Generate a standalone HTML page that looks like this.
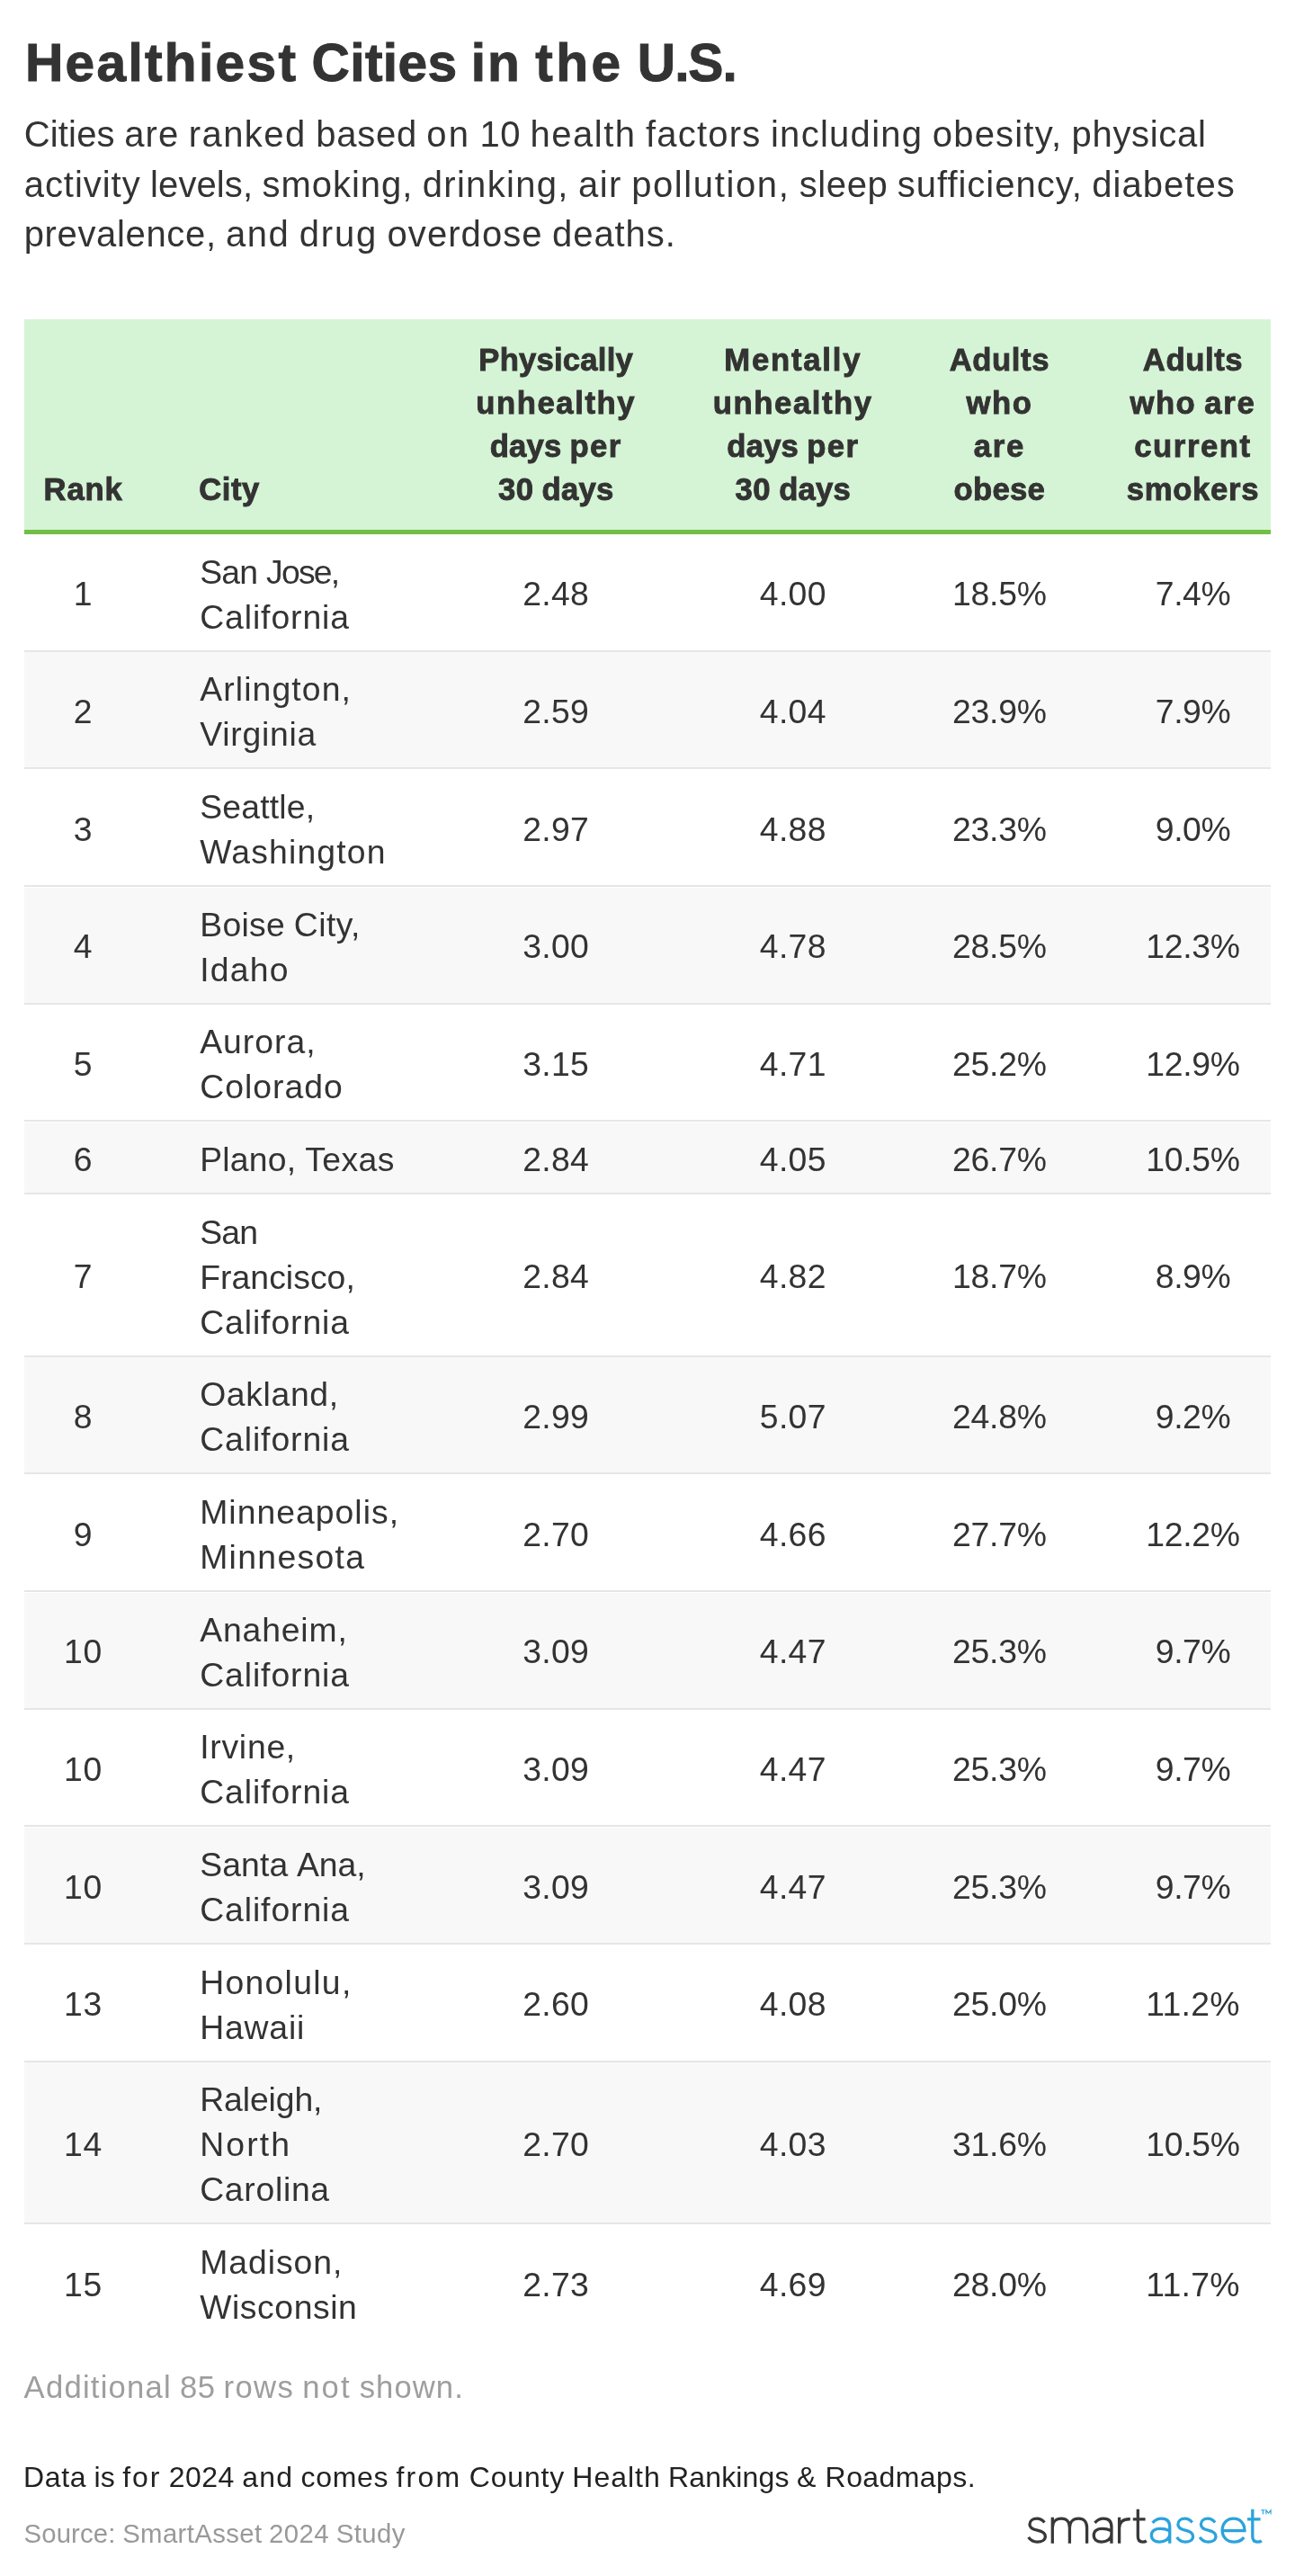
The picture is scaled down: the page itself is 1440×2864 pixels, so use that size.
<!DOCTYPE html>
<html><head><meta charset="utf-8"><title>Healthiest Cities in the U.S.</title>
<style>
html,body{margin:0;padding:0;background:#fff}
body{width:1440px;height:2864px;position:relative;overflow:hidden;font-family:"Liberation Sans",sans-serif}
.t{position:absolute;white-space:nowrap;font-family:"Liberation Sans",sans-serif}
.r{position:absolute}
#wrap{position:absolute;left:0;top:0;width:1440px;height:2864px;will-change:transform}
</style></head><body>
<div id="wrap">
<div class="t" style="left:27.90px;top:34.86px;font-size:58.67px;line-height:70.40px;color:#333;font-weight:bold;-webkit-text-stroke:1.0px #333;word-spacing:-1.097px;"><span style="letter-spacing:2.301px">Healthiest</span> <span style="letter-spacing:0.385px">Cities</span> <span style="letter-spacing:2.092px">in</span> <span style="letter-spacing:3.478px">the</span> <span style="letter-spacing:-1.065px">U.S.</span></div>
<div class="t" style="left:26.70px;top:124.73px;font-size:40.00px;line-height:48.00px;color:#333;word-spacing:-0.722px;"><span style="letter-spacing:0.182px">Cities</span> <span style="letter-spacing:1.067px">are</span> <span style="letter-spacing:1.461px">ranked</span> <span style="letter-spacing:0.761px">based</span> <span style="letter-spacing:2.109px">on</span> <span style="letter-spacing:0.585px">10</span> <span style="letter-spacing:1.507px">health</span> <span style="letter-spacing:1.214px">factors</span> <span style="letter-spacing:1.286px">including</span> <span style="letter-spacing:1.189px">obesity,</span> <span style="letter-spacing:0.664px">physical</span></div>
<div class="t" style="left:26.70px;top:180.53px;font-size:40.00px;line-height:48.00px;color:#333;word-spacing:-0.722px;"><span style="letter-spacing:0.964px">activity</span> <span style="letter-spacing:0.095px">levels,</span> <span style="letter-spacing:0.971px">smoking,</span> <span style="letter-spacing:1.299px">drinking,</span> <span style="letter-spacing:1.412px">air</span> <span style="letter-spacing:1.609px">pollution,</span> <span style="letter-spacing:0.593px">sleep</span> <span style="letter-spacing:0.988px">sufficiency,</span> <span style="letter-spacing:1.030px">diabetes</span></div>
<div class="t" style="left:26.70px;top:236.33px;font-size:40.00px;line-height:48.00px;color:#333;word-spacing:-0.722px;"><span style="letter-spacing:0.651px">prevalence,</span> <span style="letter-spacing:1.523px">and</span> <span style="letter-spacing:1.811px">drug</span> <span style="letter-spacing:1.076px">overdose</span> <span style="letter-spacing:0.912px">deaths.</span></div>
<div class="r" style="left:26.67px;top:354.67px;width:1386.66px;height:234.67px;background:#d5f4d5"></div>
<div class="r" style="left:26.67px;top:589.00px;width:1386.66px;height:5.00px;background:#73bf45"></div>
<div class="t" style="left:48.53px;top:524.38px;font-size:34.67px;line-height:41.60px;color:#333;font-weight:bold;-webkit-text-stroke:0.9px #333;letter-spacing:0.842px;">Rank</div>
<div class="t" style="left:221.30px;top:524.38px;font-size:34.67px;line-height:41.60px;color:#333;font-weight:bold;-webkit-text-stroke:0.9px #333;letter-spacing:0.486px;">City</div>
<div class="t" style="left:532.31px;top:379.78px;font-size:34.67px;line-height:41.60px;color:#333;font-weight:bold;-webkit-text-stroke:0.9px #333;letter-spacing:0.216px;">Physically</div>
<div class="t" style="left:529.22px;top:427.98px;font-size:34.67px;line-height:41.60px;color:#333;font-weight:bold;-webkit-text-stroke:0.9px #333;letter-spacing:1.579px;">unhealthy</div>
<div class="t" style="left:544.68px;top:476.18px;font-size:34.67px;line-height:41.60px;color:#333;font-weight:bold;-webkit-text-stroke:0.9px #333;word-spacing:-0.626px;"><span style="letter-spacing:0.211px">days</span> <span style="letter-spacing:1.405px">per</span></div>
<div class="t" style="left:553.97px;top:524.38px;font-size:34.67px;line-height:41.60px;color:#333;font-weight:bold;-webkit-text-stroke:0.9px #333;word-spacing:-0.626px;"><span style="letter-spacing:0.507px">30</span> <span style="letter-spacing:0.211px">days</span></div>
<div class="t" style="left:805.37px;top:379.78px;font-size:34.67px;line-height:41.60px;color:#333;font-weight:bold;-webkit-text-stroke:0.9px #333;letter-spacing:1.769px;">Mentally</div>
<div class="t" style="left:792.82px;top:427.98px;font-size:34.67px;line-height:41.60px;color:#333;font-weight:bold;-webkit-text-stroke:0.9px #333;letter-spacing:1.579px;">unhealthy</div>
<div class="t" style="left:808.28px;top:476.18px;font-size:34.67px;line-height:41.60px;color:#333;font-weight:bold;-webkit-text-stroke:0.9px #333;word-spacing:-0.626px;"><span style="letter-spacing:0.211px">days</span> <span style="letter-spacing:1.405px">per</span></div>
<div class="t" style="left:817.57px;top:524.38px;font-size:34.67px;line-height:41.60px;color:#333;font-weight:bold;-webkit-text-stroke:0.9px #333;word-spacing:-0.626px;"><span style="letter-spacing:0.507px">30</span> <span style="letter-spacing:0.211px">days</span></div>
<div class="t" style="left:1055.65px;top:379.78px;font-size:34.67px;line-height:41.60px;color:#333;font-weight:bold;-webkit-text-stroke:0.9px #333;letter-spacing:0.609px;">Adults</div>
<div class="t" style="left:1074.44px;top:427.98px;font-size:34.67px;line-height:41.60px;color:#333;font-weight:bold;-webkit-text-stroke:0.9px #333;letter-spacing:1.535px;">who</div>
<div class="t" style="left:1082.80px;top:476.18px;font-size:34.67px;line-height:41.60px;color:#333;font-weight:bold;-webkit-text-stroke:0.9px #333;letter-spacing:1.715px;">are</div>
<div class="t" style="left:1060.60px;top:524.38px;font-size:34.67px;line-height:41.60px;color:#333;font-weight:bold;-webkit-text-stroke:0.9px #333;letter-spacing:0.280px;">obese</div>
<div class="t" style="left:1270.75px;top:379.78px;font-size:34.67px;line-height:41.60px;color:#333;font-weight:bold;-webkit-text-stroke:0.9px #333;letter-spacing:0.609px;">Adults</div>
<div class="t" style="left:1256.43px;top:427.98px;font-size:34.67px;line-height:41.60px;color:#333;font-weight:bold;-webkit-text-stroke:0.9px #333;word-spacing:-0.626px;"><span style="letter-spacing:1.535px">who</span> <span style="letter-spacing:1.715px">are</span></div>
<div class="t" style="left:1261.29px;top:476.18px;font-size:34.67px;line-height:41.60px;color:#333;font-weight:bold;-webkit-text-stroke:0.9px #333;letter-spacing:1.567px;">current</div>
<div class="t" style="left:1252.65px;top:524.38px;font-size:34.67px;line-height:41.60px;color:#333;font-weight:bold;-webkit-text-stroke:0.9px #333;letter-spacing:0.725px;">smokers</div>
<div class="r" style="left:26.67px;top:723.00px;width:1386.66px;height:2.00px;background:#e6e6e6"></div>
<div class="t" style="left:222.20px;top:613.73px;font-size:37.33px;line-height:44.80px;color:#333;word-spacing:-0.674px;"><span style="letter-spacing:-0.754px">San</span> <span style="letter-spacing:-1.761px">Jose,</span></div>
<div class="t" style="left:222.20px;top:663.73px;font-size:37.33px;line-height:44.80px;color:#333;letter-spacing:0.905px;">California</div>
<div class="t" style="left:81.75px;top:638.43px;font-size:37.33px;line-height:44.80px;color:#333;letter-spacing:0.546px;">1</div>
<div class="t" style="left:581.27px;top:638.43px;font-size:37.33px;line-height:44.80px;color:#333;letter-spacing:0.300px;">2.48</div>
<div class="t" style="left:844.87px;top:638.43px;font-size:37.33px;line-height:44.80px;color:#333;letter-spacing:0.300px;">4.00</div>
<div class="t" style="left:1059.05px;top:638.43px;font-size:37.33px;line-height:44.80px;color:#333;letter-spacing:-0.230px;">18.5%</div>
<div class="t" style="left:1284.80px;top:638.43px;font-size:37.33px;line-height:44.80px;color:#333;letter-spacing:-0.424px;">7.4%</div>
<div class="r" style="left:26.67px;top:725.34px;width:1386.66px;height:128.00px;background:#f8f8f8"></div>
<div class="r" style="left:26.67px;top:853.00px;width:1386.66px;height:2.00px;background:#e6e6e6"></div>
<div class="t" style="left:222.20px;top:744.40px;font-size:37.33px;line-height:44.80px;color:#333;letter-spacing:1.119px;">Arlington,</div>
<div class="t" style="left:222.20px;top:794.40px;font-size:37.33px;line-height:44.80px;color:#333;letter-spacing:0.760px;">Virginia</div>
<div class="t" style="left:81.75px;top:769.10px;font-size:37.33px;line-height:44.80px;color:#333;letter-spacing:0.546px;">2</div>
<div class="t" style="left:581.27px;top:769.10px;font-size:37.33px;line-height:44.80px;color:#333;letter-spacing:0.300px;">2.59</div>
<div class="t" style="left:844.87px;top:769.10px;font-size:37.33px;line-height:44.80px;color:#333;letter-spacing:0.300px;">4.04</div>
<div class="t" style="left:1059.05px;top:769.10px;font-size:37.33px;line-height:44.80px;color:#333;letter-spacing:-0.230px;">23.9%</div>
<div class="t" style="left:1284.80px;top:769.10px;font-size:37.33px;line-height:44.80px;color:#333;letter-spacing:-0.424px;">7.9%</div>
<div class="r" style="left:26.67px;top:984.00px;width:1386.66px;height:2.00px;background:#e6e6e6"></div>
<div class="t" style="left:222.20px;top:875.07px;font-size:37.33px;line-height:44.80px;color:#333;letter-spacing:0.187px;">Seattle,</div>
<div class="t" style="left:222.20px;top:925.07px;font-size:37.33px;line-height:44.80px;color:#333;letter-spacing:1.173px;">Washington</div>
<div class="t" style="left:81.75px;top:899.77px;font-size:37.33px;line-height:44.80px;color:#333;letter-spacing:0.546px;">3</div>
<div class="t" style="left:581.27px;top:899.77px;font-size:37.33px;line-height:44.80px;color:#333;letter-spacing:0.300px;">2.97</div>
<div class="t" style="left:844.87px;top:899.77px;font-size:37.33px;line-height:44.80px;color:#333;letter-spacing:0.300px;">4.88</div>
<div class="t" style="left:1059.05px;top:899.77px;font-size:37.33px;line-height:44.80px;color:#333;letter-spacing:-0.230px;">23.3%</div>
<div class="t" style="left:1284.80px;top:899.77px;font-size:37.33px;line-height:44.80px;color:#333;letter-spacing:-0.424px;">9.0%</div>
<div class="r" style="left:26.67px;top:986.68px;width:1386.66px;height:128.00px;background:#f8f8f8"></div>
<div class="r" style="left:26.67px;top:1115.00px;width:1386.66px;height:2.00px;background:#e6e6e6"></div>
<div class="t" style="left:222.20px;top:1005.74px;font-size:37.33px;line-height:44.80px;color:#333;word-spacing:-0.674px;"><span style="letter-spacing:0.309px">Boise</span> <span style="letter-spacing:0.448px">City,</span></div>
<div class="t" style="left:222.20px;top:1055.74px;font-size:37.33px;line-height:44.80px;color:#333;letter-spacing:1.217px;">Idaho</div>
<div class="t" style="left:81.75px;top:1030.44px;font-size:37.33px;line-height:44.80px;color:#333;letter-spacing:0.546px;">4</div>
<div class="t" style="left:581.27px;top:1030.44px;font-size:37.33px;line-height:44.80px;color:#333;letter-spacing:0.300px;">3.00</div>
<div class="t" style="left:844.87px;top:1030.44px;font-size:37.33px;line-height:44.80px;color:#333;letter-spacing:0.300px;">4.78</div>
<div class="t" style="left:1059.05px;top:1030.44px;font-size:37.33px;line-height:44.80px;color:#333;letter-spacing:-0.230px;">28.5%</div>
<div class="t" style="left:1274.15px;top:1030.44px;font-size:37.33px;line-height:44.80px;color:#333;letter-spacing:-0.230px;">12.3%</div>
<div class="r" style="left:26.67px;top:1245.00px;width:1386.66px;height:2.00px;background:#e6e6e6"></div>
<div class="t" style="left:222.20px;top:1136.41px;font-size:37.33px;line-height:44.80px;color:#333;letter-spacing:1.007px;">Aurora,</div>
<div class="t" style="left:222.20px;top:1186.41px;font-size:37.33px;line-height:44.80px;color:#333;letter-spacing:1.002px;">Colorado</div>
<div class="t" style="left:81.75px;top:1161.11px;font-size:37.33px;line-height:44.80px;color:#333;letter-spacing:0.546px;">5</div>
<div class="t" style="left:581.27px;top:1161.11px;font-size:37.33px;line-height:44.80px;color:#333;letter-spacing:0.300px;">3.15</div>
<div class="t" style="left:844.87px;top:1161.11px;font-size:37.33px;line-height:44.80px;color:#333;letter-spacing:0.300px;">4.71</div>
<div class="t" style="left:1059.05px;top:1161.11px;font-size:37.33px;line-height:44.80px;color:#333;letter-spacing:-0.230px;">25.2%</div>
<div class="t" style="left:1274.15px;top:1161.11px;font-size:37.33px;line-height:44.80px;color:#333;letter-spacing:-0.230px;">12.9%</div>
<div class="r" style="left:26.67px;top:1248.02px;width:1386.66px;height:78.00px;background:#f8f8f8"></div>
<div class="r" style="left:26.67px;top:1326.00px;width:1386.66px;height:2.00px;background:#e6e6e6"></div>
<div class="t" style="left:222.20px;top:1267.08px;font-size:37.33px;line-height:44.80px;color:#333;word-spacing:-0.674px;"><span style="letter-spacing:0.239px">Plano,</span> <span style="letter-spacing:0.441px">Texas</span></div>
<div class="t" style="left:81.75px;top:1266.78px;font-size:37.33px;line-height:44.80px;color:#333;letter-spacing:0.546px;">6</div>
<div class="t" style="left:581.27px;top:1266.78px;font-size:37.33px;line-height:44.80px;color:#333;letter-spacing:0.300px;">2.84</div>
<div class="t" style="left:844.87px;top:1266.78px;font-size:37.33px;line-height:44.80px;color:#333;letter-spacing:0.300px;">4.05</div>
<div class="t" style="left:1059.05px;top:1266.78px;font-size:37.33px;line-height:44.80px;color:#333;letter-spacing:-0.230px;">26.7%</div>
<div class="t" style="left:1274.15px;top:1266.78px;font-size:37.33px;line-height:44.80px;color:#333;letter-spacing:-0.230px;">10.5%</div>
<div class="r" style="left:26.67px;top:1507.00px;width:1386.66px;height:2.00px;background:#e6e6e6"></div>
<div class="t" style="left:222.20px;top:1347.75px;font-size:37.33px;line-height:44.80px;color:#333;letter-spacing:-0.754px;">San</div>
<div class="t" style="left:222.20px;top:1397.75px;font-size:37.33px;line-height:44.80px;color:#333;letter-spacing:0.049px;">Francisco,</div>
<div class="t" style="left:222.20px;top:1447.75px;font-size:37.33px;line-height:44.80px;color:#333;letter-spacing:0.905px;">California</div>
<div class="t" style="left:81.75px;top:1397.45px;font-size:37.33px;line-height:44.80px;color:#333;letter-spacing:0.546px;">7</div>
<div class="t" style="left:581.27px;top:1397.45px;font-size:37.33px;line-height:44.80px;color:#333;letter-spacing:0.300px;">2.84</div>
<div class="t" style="left:844.87px;top:1397.45px;font-size:37.33px;line-height:44.80px;color:#333;letter-spacing:0.300px;">4.82</div>
<div class="t" style="left:1059.05px;top:1397.45px;font-size:37.33px;line-height:44.80px;color:#333;letter-spacing:-0.230px;">18.7%</div>
<div class="t" style="left:1284.80px;top:1397.45px;font-size:37.33px;line-height:44.80px;color:#333;letter-spacing:-0.424px;">8.9%</div>
<div class="r" style="left:26.67px;top:1509.36px;width:1386.66px;height:128.00px;background:#f8f8f8"></div>
<div class="r" style="left:26.67px;top:1637.00px;width:1386.66px;height:2.00px;background:#e6e6e6"></div>
<div class="t" style="left:222.20px;top:1528.42px;font-size:37.33px;line-height:44.80px;color:#333;letter-spacing:0.645px;">Oakland,</div>
<div class="t" style="left:222.20px;top:1578.42px;font-size:37.33px;line-height:44.80px;color:#333;letter-spacing:0.905px;">California</div>
<div class="t" style="left:81.75px;top:1553.12px;font-size:37.33px;line-height:44.80px;color:#333;letter-spacing:0.546px;">8</div>
<div class="t" style="left:581.27px;top:1553.12px;font-size:37.33px;line-height:44.80px;color:#333;letter-spacing:0.300px;">2.99</div>
<div class="t" style="left:844.87px;top:1553.12px;font-size:37.33px;line-height:44.80px;color:#333;letter-spacing:0.300px;">5.07</div>
<div class="t" style="left:1059.05px;top:1553.12px;font-size:37.33px;line-height:44.80px;color:#333;letter-spacing:-0.230px;">24.8%</div>
<div class="t" style="left:1284.80px;top:1553.12px;font-size:37.33px;line-height:44.80px;color:#333;letter-spacing:-0.424px;">9.2%</div>
<div class="r" style="left:26.67px;top:1768.00px;width:1386.66px;height:2.00px;background:#e6e6e6"></div>
<div class="t" style="left:222.20px;top:1659.09px;font-size:37.33px;line-height:44.80px;color:#333;letter-spacing:1.029px;">Minneapolis,</div>
<div class="t" style="left:222.20px;top:1709.09px;font-size:37.33px;line-height:44.80px;color:#333;letter-spacing:1.330px;">Minnesota</div>
<div class="t" style="left:81.75px;top:1683.79px;font-size:37.33px;line-height:44.80px;color:#333;letter-spacing:0.546px;">9</div>
<div class="t" style="left:581.27px;top:1683.79px;font-size:37.33px;line-height:44.80px;color:#333;letter-spacing:0.300px;">2.70</div>
<div class="t" style="left:844.87px;top:1683.79px;font-size:37.33px;line-height:44.80px;color:#333;letter-spacing:0.300px;">4.66</div>
<div class="t" style="left:1059.05px;top:1683.79px;font-size:37.33px;line-height:44.80px;color:#333;letter-spacing:-0.230px;">27.7%</div>
<div class="t" style="left:1274.15px;top:1683.79px;font-size:37.33px;line-height:44.80px;color:#333;letter-spacing:-0.230px;">12.2%</div>
<div class="r" style="left:26.67px;top:1770.70px;width:1386.66px;height:128.00px;background:#f8f8f8"></div>
<div class="r" style="left:26.67px;top:1899.00px;width:1386.66px;height:2.00px;background:#e6e6e6"></div>
<div class="t" style="left:222.20px;top:1789.76px;font-size:37.33px;line-height:44.80px;color:#333;letter-spacing:0.845px;">Anaheim,</div>
<div class="t" style="left:222.20px;top:1839.76px;font-size:37.33px;line-height:44.80px;color:#333;letter-spacing:0.905px;">California</div>
<div class="t" style="left:71.09px;top:1814.46px;font-size:37.33px;line-height:44.80px;color:#333;letter-spacing:0.546px;">10</div>
<div class="t" style="left:581.27px;top:1814.46px;font-size:37.33px;line-height:44.80px;color:#333;letter-spacing:0.300px;">3.09</div>
<div class="t" style="left:844.87px;top:1814.46px;font-size:37.33px;line-height:44.80px;color:#333;letter-spacing:0.300px;">4.47</div>
<div class="t" style="left:1059.05px;top:1814.46px;font-size:37.33px;line-height:44.80px;color:#333;letter-spacing:-0.230px;">25.3%</div>
<div class="t" style="left:1284.80px;top:1814.46px;font-size:37.33px;line-height:44.80px;color:#333;letter-spacing:-0.424px;">9.7%</div>
<div class="r" style="left:26.67px;top:2029.00px;width:1386.66px;height:2.00px;background:#e6e6e6"></div>
<div class="t" style="left:222.20px;top:1920.43px;font-size:37.33px;line-height:44.80px;color:#333;letter-spacing:0.734px;">Irvine,</div>
<div class="t" style="left:222.20px;top:1970.43px;font-size:37.33px;line-height:44.80px;color:#333;letter-spacing:0.905px;">California</div>
<div class="t" style="left:71.09px;top:1945.13px;font-size:37.33px;line-height:44.80px;color:#333;letter-spacing:0.546px;">10</div>
<div class="t" style="left:581.27px;top:1945.13px;font-size:37.33px;line-height:44.80px;color:#333;letter-spacing:0.300px;">3.09</div>
<div class="t" style="left:844.87px;top:1945.13px;font-size:37.33px;line-height:44.80px;color:#333;letter-spacing:0.300px;">4.47</div>
<div class="t" style="left:1059.05px;top:1945.13px;font-size:37.33px;line-height:44.80px;color:#333;letter-spacing:-0.230px;">25.3%</div>
<div class="t" style="left:1284.80px;top:1945.13px;font-size:37.33px;line-height:44.80px;color:#333;letter-spacing:-0.424px;">9.7%</div>
<div class="r" style="left:26.67px;top:2032.04px;width:1386.66px;height:128.00px;background:#f8f8f8"></div>
<div class="r" style="left:26.67px;top:2160.00px;width:1386.66px;height:2.00px;background:#e6e6e6"></div>
<div class="t" style="left:222.20px;top:2051.10px;font-size:37.33px;line-height:44.80px;color:#333;word-spacing:-0.674px;"><span style="letter-spacing:0.109px">Santa</span> <span style="letter-spacing:-0.087px">Ana,</span></div>
<div class="t" style="left:222.20px;top:2101.10px;font-size:37.33px;line-height:44.80px;color:#333;letter-spacing:0.905px;">California</div>
<div class="t" style="left:71.09px;top:2075.80px;font-size:37.33px;line-height:44.80px;color:#333;letter-spacing:0.546px;">10</div>
<div class="t" style="left:581.27px;top:2075.80px;font-size:37.33px;line-height:44.80px;color:#333;letter-spacing:0.300px;">3.09</div>
<div class="t" style="left:844.87px;top:2075.80px;font-size:37.33px;line-height:44.80px;color:#333;letter-spacing:0.300px;">4.47</div>
<div class="t" style="left:1059.05px;top:2075.80px;font-size:37.33px;line-height:44.80px;color:#333;letter-spacing:-0.230px;">25.3%</div>
<div class="t" style="left:1284.80px;top:2075.80px;font-size:37.33px;line-height:44.80px;color:#333;letter-spacing:-0.424px;">9.7%</div>
<div class="r" style="left:26.67px;top:2291.00px;width:1386.66px;height:2.00px;background:#e6e6e6"></div>
<div class="t" style="left:222.20px;top:2181.77px;font-size:37.33px;line-height:44.80px;color:#333;letter-spacing:1.298px;">Honolulu,</div>
<div class="t" style="left:222.20px;top:2231.77px;font-size:37.33px;line-height:44.80px;color:#333;letter-spacing:0.826px;">Hawaii</div>
<div class="t" style="left:71.09px;top:2206.47px;font-size:37.33px;line-height:44.80px;color:#333;letter-spacing:0.546px;">13</div>
<div class="t" style="left:581.27px;top:2206.47px;font-size:37.33px;line-height:44.80px;color:#333;letter-spacing:0.300px;">2.60</div>
<div class="t" style="left:844.87px;top:2206.47px;font-size:37.33px;line-height:44.80px;color:#333;letter-spacing:0.300px;">4.08</div>
<div class="t" style="left:1059.05px;top:2206.47px;font-size:37.33px;line-height:44.80px;color:#333;letter-spacing:-0.230px;">25.0%</div>
<div class="t" style="left:1274.15px;top:2206.47px;font-size:37.33px;line-height:44.80px;color:#333;letter-spacing:0.324px;">11.2%</div>
<div class="r" style="left:26.67px;top:2293.38px;width:1386.66px;height:178.00px;background:#f8f8f8"></div>
<div class="r" style="left:26.67px;top:2471.00px;width:1386.66px;height:2.00px;background:#e6e6e6"></div>
<div class="t" style="left:222.20px;top:2312.44px;font-size:37.33px;line-height:44.80px;color:#333;letter-spacing:-0.099px;">Raleigh,</div>
<div class="t" style="left:222.20px;top:2362.44px;font-size:37.33px;line-height:44.80px;color:#333;letter-spacing:2.147px;">North</div>
<div class="t" style="left:222.20px;top:2412.44px;font-size:37.33px;line-height:44.80px;color:#333;letter-spacing:0.703px;">Carolina</div>
<div class="t" style="left:71.09px;top:2362.14px;font-size:37.33px;line-height:44.80px;color:#333;letter-spacing:0.546px;">14</div>
<div class="t" style="left:581.27px;top:2362.14px;font-size:37.33px;line-height:44.80px;color:#333;letter-spacing:0.300px;">2.70</div>
<div class="t" style="left:844.87px;top:2362.14px;font-size:37.33px;line-height:44.80px;color:#333;letter-spacing:0.300px;">4.03</div>
<div class="t" style="left:1059.05px;top:2362.14px;font-size:37.33px;line-height:44.80px;color:#333;letter-spacing:-0.230px;">31.6%</div>
<div class="t" style="left:1274.15px;top:2362.14px;font-size:37.33px;line-height:44.80px;color:#333;letter-spacing:-0.230px;">10.5%</div>
<div class="t" style="left:222.20px;top:2493.11px;font-size:37.33px;line-height:44.80px;color:#333;letter-spacing:0.966px;">Madison,</div>
<div class="t" style="left:222.20px;top:2543.11px;font-size:37.33px;line-height:44.80px;color:#333;letter-spacing:0.567px;">Wisconsin</div>
<div class="t" style="left:71.09px;top:2517.81px;font-size:37.33px;line-height:44.80px;color:#333;letter-spacing:0.546px;">15</div>
<div class="t" style="left:581.27px;top:2517.81px;font-size:37.33px;line-height:44.80px;color:#333;letter-spacing:0.300px;">2.73</div>
<div class="t" style="left:844.87px;top:2517.81px;font-size:37.33px;line-height:44.80px;color:#333;letter-spacing:0.300px;">4.69</div>
<div class="t" style="left:1059.05px;top:2517.81px;font-size:37.33px;line-height:44.80px;color:#333;letter-spacing:-0.230px;">28.0%</div>
<div class="t" style="left:1274.15px;top:2517.81px;font-size:37.33px;line-height:44.80px;color:#333;letter-spacing:0.324px;">11.7%</div>
<div class="t" style="left:26.60px;top:2633.98px;font-size:34.67px;line-height:41.60px;color:#9e9e9e;word-spacing:-0.626px;"><span style="letter-spacing:1.220px">Additional</span> <span style="letter-spacing:0.507px">85</span> <span style="letter-spacing:1.349px">rows</span> <span style="letter-spacing:2.088px">not</span> <span style="letter-spacing:1.063px">shown.</span></div>
<div class="t" style="left:26.00px;top:2735.41px;font-size:32.00px;line-height:38.40px;color:#222;word-spacing:-0.578px;"><span style="letter-spacing:0.656px">Data</span> <span style="letter-spacing:0.125px">is</span> <span style="letter-spacing:1.963px">for</span> <span style="letter-spacing:0.468px">2024</span> <span style="letter-spacing:1.218px">and</span> <span style="letter-spacing:0.659px">comes</span> <span style="letter-spacing:2.249px">from</span> <span style="letter-spacing:0.804px">County</span> <span style="letter-spacing:0.981px">Health</span> <span style="letter-spacing:0.142px">Rankings</span> <span style="letter-spacing:2.014px">&amp;</span> <span style="letter-spacing:0.425px">Roadmaps.</span></div>
<div class="t" style="left:26.50px;top:2799.13px;font-size:29.33px;line-height:35.20px;color:#999;word-spacing:-0.529px;"><span style="letter-spacing:0.132px">Source:</span> <span style="letter-spacing:0.379px">SmartAsset</span> <span style="letter-spacing:0.429px">2024</span> <span style="letter-spacing:0.441px">Study</span></div>
<svg style="position:absolute;left:1130px;top:2780px" width="300" height="64" viewBox="1130 2780 300 64"><path d="M1161.41 2804.60 C1158.98 2801.49 1155.99 2800.20 1153.00 2800.20 C1148.33 2800.20 1144.96 2802.79 1144.96 2806.67 C1144.96 2811.08 1149.26 2812.24 1153.37 2813.15 C1158.24 2814.19 1162.35 2815.48 1162.35 2819.88 C1162.35 2823.77 1158.61 2826.10 1153.37 2826.10 C1149.26 2826.10 1145.89 2824.29 1143.65 2820.92 M1170.30 2827.8 V2798.80 M1170.30 2810.20 C1170.30 2804.20 1174.12 2800.20 1180.23 2800.20 C1186.15 2800.20 1189.40 2804.20 1189.40 2810.20 V2827.8 M1189.40 2810.20 C1189.40 2804.20 1193.24 2800.20 1199.38 2800.20 C1205.34 2800.20 1208.60 2804.20 1208.60 2810.20 V2827.8  M1217.43 2804.86 C1220.19 2801.75 1223.34 2800.20 1227.08 2800.20 C1232.80 2800.20 1235.95 2803.57 1235.95 2809.52 V2827.80 M1235.95 2813.67 C1232.40 2812.11 1229.25 2811.34 1225.71 2811.34 C1219.80 2811.34 1216.25 2814.19 1216.25 2818.85 C1216.25 2823.25 1219.80 2826.10 1224.92 2826.10 C1230.43 2826.10 1235.95 2822.99 1235.95 2817.81 M1244.60 2827.8 V2798.80 M1244.60 2810.70 C1244.60 2804.20 1248.60 2800.40 1256.80 2800.80 M1265.30 2789.8 V2820.10 C1265.30 2824.60 1267.50 2826.10 1270.50 2826.10 C1272.10 2826.10 1273.80 2825.70 1274.80 2824.90 M1259.80 2800.8 H1273.60" fill="none" stroke="#383838" stroke-width="3.3"/><path d="M1281.57 2804.86 C1284.43 2801.75 1287.69 2800.20 1291.57 2800.20 C1297.49 2800.20 1300.75 2803.57 1300.75 2809.52 V2827.80 M1300.75 2813.67 C1297.08 2812.11 1293.81 2811.34 1290.14 2811.34 C1284.02 2811.34 1280.35 2814.19 1280.35 2818.85 C1280.35 2823.25 1284.02 2826.10 1289.33 2826.10 C1295.04 2826.10 1300.75 2822.99 1300.75 2817.81 M1325.65 2804.60 C1323.33 2801.49 1320.46 2800.20 1317.60 2800.20 C1313.12 2800.20 1309.90 2802.79 1309.90 2806.67 C1309.90 2811.08 1314.02 2812.24 1317.96 2813.15 C1322.61 2814.19 1326.55 2815.48 1326.55 2819.88 C1326.55 2823.77 1322.97 2826.10 1317.96 2826.10 C1314.02 2826.10 1310.80 2824.29 1308.65 2820.92 M1351.06 2804.60 C1348.75 2801.49 1345.90 2800.20 1343.05 2800.20 C1338.60 2800.20 1335.40 2802.79 1335.40 2806.67 C1335.40 2811.08 1339.49 2812.24 1343.41 2813.15 C1348.03 2814.19 1351.95 2815.48 1351.95 2819.88 C1351.95 2823.77 1348.39 2826.10 1343.41 2826.10 C1339.49 2826.10 1336.29 2824.29 1334.15 2820.92 M1359.15 2813.60 H1383.95 C1383.95 2805.38 1378.99 2800.20 1371.55 2800.20 C1364.11 2800.20 1359.15 2805.90 1359.15 2813.15 C1359.15 2820.40 1364.11 2826.10 1372.05 2826.10 C1377.01 2826.10 1380.97 2824.03 1383.21 2820.92 M1392.80 2789.8 V2820.10 C1392.80 2824.60 1395.00 2826.10 1398.00 2826.10 C1399.60 2826.10 1401.80 2825.70 1402.80 2824.90 M1387.00 2800.8 H1401.60" fill="none" stroke="#2aa3dc" stroke-width="3.3"/><path d="M1402.2 2790.8 H1406.6 M1404.4 2790.8 V2795.4 M1407.9 2795.4 V2790.8 L1410.5 2794.2 L1413.1 2790.8 V2795.4" fill="none" stroke="#2aa3dc" stroke-width="1.1"/></svg>
</div>
</body></html>
